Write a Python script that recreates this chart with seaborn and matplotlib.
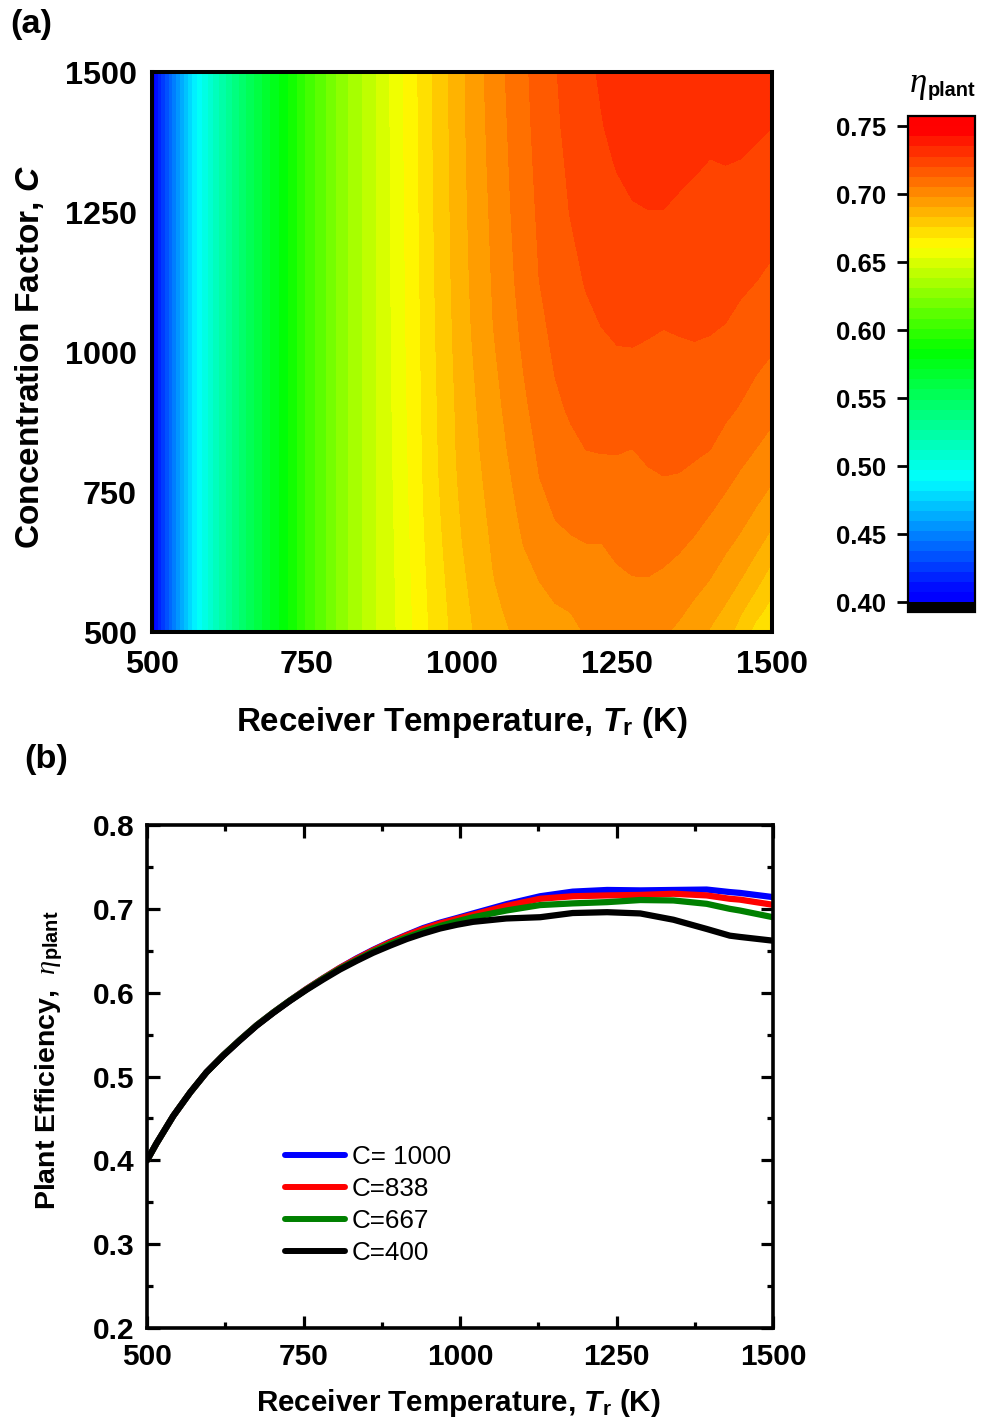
import numpy as np
import matplotlib
matplotlib.use("Agg")
import matplotlib.pyplot as plt
from matplotlib.colors import LinearSegmentedColormap
from matplotlib.ticker import MultipleLocator, FormatStrFormatter
import seaborn as sns

# panel (a): efficiency
conc_rows = [500, 535, 590, 660, 700, 775, 825, 900, 1010, 1046, 1130, 1250, 1345, 1400, 1500]

# below 875 K the map does not depend on C
temp_low = [500, 515, 542, 569, 595, 622, 649, 675, 702, 728, 755, 782, 808, 835, 861]
eta_low = [.400, .422, .457, .486, .509, .529, .547, .563, .577, .591, .605, .617, .628, .637, .6455]

temp_high = [900, 950, 1000, 1050, 1100, 1125, 1150, 1175, 1200, 1225, 1250,
             1275, 1300, 1325, 1350, 1375, 1400, 1425, 1450, 1475, 1500]
eta_t900 = [.6548, .6550, .6553, .6557, .6560, .6565, .6568, .6572, .6577, .6578, .6581, .6584, .6587, .6588, .6590]
eta_t950 = [.6691, .6696, .6703, .6712, .6717, .6724, .6727, .6730, .6735, .6736, .6740, .6744, .6747, .6748, .6750]
eta_t1000 = [.6803, .6808, .6817, .6830, .6837, .6850, .6856, .6861, .6872, .6875, .6881, .6886, .6890, .6891, .6893]
eta_t1050 = [.6881, .6889, .6902, .6914, .6921, .6933, .6942, .6954, .6973, .6979, .6986, .6995, .7003, .7007, .7015]
eta_t1100 = [.6925, .6938, .6958, .6983, .6993, .7012, .7025, .7043, .7065, .7071, .7085, .7098, .7105, .7109, .7116]
eta_t1125 = [.6939, .6955, .6980, .7008, .7025, .7054, .7065, .7081, .7104, .7112, .7130, .7140, .7148, .7153, .7158]
eta_t1150 = [.6955, .6972, .6999, .7034, .7054, .7078, .7093, .7117, .7141, .7148, .7160, .7175, .7187, .7192, .7199]
eta_t1175 = [.6962, .6980, .7010, .7048, .7066, .7095, .7115, .7137, .7159, .7166, .7183, .7206, .7215, .7222, .7230]
eta_t1200 = [.6985, .7000, .7024, .7055, .7074, .7107, .7129, .7149, .7179, .7189, .7209, .7230, .7244, .7250, .7260]
eta_t1225 = [.6983, .6999, .7023, .7055, .7074, .7109, .7132, .7156, .7192, .7204, .7220, .7244, .7263, .7274, .7288]
eta_t1250 = [.6994, .7012, .7041, .7071, .7086, .7114, .7132, .7161, .7203, .7212, .7232, .7261, .7284, .7296, .7303]
eta_t1275 = [.6999, .7019, .7051, .7075, .7088, .7112, .7128, .7159, .7204, .7214, .7239, .7273, .7296, .7308, .7315]
eta_t1300 = [.6999, .7019, .7051, .7079, .7094, .7122, .7139, .7163, .7199, .7211, .7238, .7277, .7298, .7312, .7322]
eta_t1325 = [.6988, .7009, .7042, .7076, .7094, .7128, .7142, .7164, .7195, .7205, .7235, .7277, .7297, .7311, .7327]
eta_t1350 = [.6966, .6990, .7025, .7066, .7087, .7126, .7142, .7165, .7198, .7209, .7234, .7269, .7293, .7306, .7328]
eta_t1375 = [.6932, .6962, .7002, .7047, .7071, .7115, .7138, .7163, .7201, .7211, .7232, .7262, .7286, .7298, .7327]
eta_t1400 = [.6899, .6929, .6977, .7022, .7048, .7097, .7129, .7157, .7198, .7208, .7228, .7256, .7278, .7290, .7324]
eta_t1425 = [.6861, .6892, .6941, .6996, .7022, .7071, .7104, .7143, .7187, .7202, .7224, .7256, .7281, .7294, .7320]
eta_t1450 = [.6797, .6836, .6901, .6965, .6995, .7044, .7075, .7124, .7171, .7186, .7216, .7251, .7278, .7291, .7315]
eta_t1475 = [.6728, .6775, .6849, .6926, .6962, .7017, .7052, .7098, .7155, .7170, .7205, .7242, .7271, .7285, .7310]
eta_t1500 = [.6690, .6726, .6788, .6877, .6921, .6989, .7026, .7076, .7137, .7153, .7191, .7232, .7261, .7278, .7305]

# panel (b): the four efficiency curves
temp_b = [500, 515, 542, 569, 595, 622, 649, 675, 702, 728, 755, 782, 808, 835, 861, 888,
          915, 941, 968, 995, 1021, 1074, 1128, 1180, 1235, 1288, 1341, 1394, 1431, 1447, 1500]
eta_c1000 = [.400, .420, .453, .481, .505, .5255, .544, .561, .5765, .5905, .6045, .6175, .6295, .641, .651, .6605,
             .669, .677, .6835, .689, .6945, .7055, .715, .7205, .7225, .722, .7225, .723, .720, .719, .714]
eta_c838 = [.400, .420, .453, .481, .505, .5255, .544, .561, .5765, .5905, .6045, .6175, .6295, .6405, .6505, .660,
            .6685, .676, .6825, .688, .693, .7035, .712, .715, .716, .7166, .718, .716, .712, .711, .7048]
eta_c667 = [.400, .420, .453, .481, .505, .5255, .544, .561, .5765, .5905, .604, .617, .6285, .639, .649, .658,
            .666, .673, .6795, .685, .690, .698, .7045, .7065, .708, .7105, .710, .706, .700, .698, .690]
eta_c400 = [.400, .420, .453, .481, .505, .525, .5435, .5605, .576, .590, .6035, .616, .6275, .638, .6475, .656,
            .664, .6705, .6765, .681, .6845, .6885, .690, .695, .696, .6945, .687, .676, .668, .6665, .662]
curve_labels = ["C= 1000", "C=838", "C=667", "C=400"]
curve_colors = ["blue", "red", "green", "black"]

W, H = 982, 1422
sns.set_style("ticks")
plt.rcParams["font.family"] = ["Liberation Sans", "DejaVu Sans"]
plt.rcParams["font.weight"] = "bold"
plt.rcParams["axes.labelweight"] = "bold"
plt.rcParams["text.color"] = "black"
plt.rcParams["axes.labelcolor"] = "black"
plt.rcParams["xtick.color"] = "black"
plt.rcParams["ytick.color"] = "black"
plt.rcParams["mathtext.fontset"] = "custom"
plt.rcParams["mathtext.rm"] = "Liberation Sans:bold"
plt.rcParams["mathtext.bf"] = "Liberation Sans:bold"
plt.rcParams["mathtext.it"] = "Liberation Serif:italic:normal"
plt.rcParams["mathtext.bfit"] = "Liberation Sans:italic:bold"


def box(x0, y0, x1, y1):
    # pixel box (top-left origin) to figure fractions
    return [x0 / W, 1 - y1 / H, (x1 - x0) / W, (y1 - y0) / H]


fig = plt.figure(figsize=(W / 100, H / 100), dpi=100)
ax_a = fig.add_axes(box(152, 72, 772, 632))
ax_b = fig.add_axes(box(147, 825, 773, 1328))
cax = fig.add_axes(box(908, 116, 975, 612))

# colours keep to the bands of the colour bar
step = 0.00745
levels = 0.4 + step * np.arange(49)
top = levels[-1]
stops = [(0, "blue"), ((.407 - .4) / (top - .4), "blue"), ((.4905 - .4) / (top - .4), "cyan"),
         ((.5847 - .4) / (top - .4), "lime"), ((.6615 - .4) / (top - .4), "yellow"),
         ((.747 - .4) / (top - .4), "red"), (1, "red")]
cmap = LinearSegmentedColormap.from_list("origin_rainbow", stops, N=1024)
cmap.set_under("black")

temp_map = temp_low + temp_high
eta_left = np.tile(eta_low, (len(conc_rows), 1))
eta_right = np.column_stack([eta_t900, eta_t950, eta_t1000, eta_t1050, eta_t1100, eta_t1125, eta_t1150,
                             eta_t1175, eta_t1200, eta_t1225, eta_t1250, eta_t1275, eta_t1300, eta_t1325,
                             eta_t1350, eta_t1375, eta_t1400, eta_t1425, eta_t1450, eta_t1475, eta_t1500])
eta_map = np.hstack([eta_left, eta_right])
cf = ax_a.contourf(temp_map, conc_rows, eta_map, levels=levels, cmap=cmap, extend="min")

ax_a.set_xlim(500, 1500)
ax_a.set_ylim(500, 1500)
ax_a.xaxis.set_major_locator(MultipleLocator(250))
ax_a.yaxis.set_major_locator(MultipleLocator(250))
ax_a.xaxis.set_minor_locator(MultipleLocator(125))
ax_a.yaxis.set_minor_locator(MultipleLocator(125))
ax_a.tick_params(which="major", direction="in", length=8, width=2.7, labelsize=23.3, color="black")
ax_a.tick_params(which="minor", direction="in", length=4.3, width=2.7, color="black")
ax_a.tick_params(axis="x", which="major", pad=13)
ax_a.tick_params(axis="y", which="major", pad=11)
for sp in ax_a.spines.values():
    sp.set_linewidth(2.9)
    sp.set_color("black")
ax_a.set_xlabel(r"Receiver Temperature, $\mathbfit{T}_{\mathbf{r}}$ (K)", fontsize=23.9, va="center")
ax_a.set_ylabel(r"Concentration Factor, $\mathbfit{C}$", fontsize=24.1, va="center")
ax_a.xaxis.set_label_coords(0.5, -0.162)
ax_a.yaxis.set_label_coords(-0.197, 0.491)

# colour bar
cbar = fig.colorbar(cf, cax=cax, extend="min", extendrect=True, extendfrac=10 / 486)
cbar.set_ticks(np.arange(0.40, 0.76, 0.05))
cbar.ax.yaxis.set_major_formatter(FormatStrFormatter("%.2f"))
cbar.ax.yaxis.set_ticks_position("left")
cbar.ax.minorticks_off()
cbar.ax.tick_params(length=8, width=2, labelsize=18.5, pad=8, color="black", direction="out")
cbar.outline.set_linewidth(1.6)
cbar.outline.set_edgecolor("black")
fig.text(910 / W, 1 - 84 / H, "η", fontsize=25, family="Liberation Serif", style="italic", weight="normal",
         ha="left", va="center")
fig.text(975 / W, 1 - 91 / H, "plant", fontsize=14.3, ha="right", va="center")

# line panel
all_curves = [eta_c1000, eta_c838, eta_c667, eta_c400]
for vals, lab, col in zip(all_curves, curve_labels, curve_colors):
    sns.lineplot(x=temp_b, y=vals, ax=ax_b, color=col, lw=4.5, label=lab, errorbar=None)
ax_b.set_xlim(500, 1500)
ax_b.set_ylim(0.2, 0.8)
ax_b.xaxis.set_major_locator(MultipleLocator(250))
ax_b.xaxis.set_minor_locator(MultipleLocator(125))
ax_b.yaxis.set_major_locator(MultipleLocator(0.1))
ax_b.yaxis.set_minor_locator(MultipleLocator(0.05))
ax_b.yaxis.set_major_formatter(FormatStrFormatter("%.1f"))
ax_b.tick_params(which="both", direction="in", top=True, right=True, width=2.3, color="black")
ax_b.tick_params(which="major", length=9, labelsize=21.5)
ax_b.tick_params(which="minor", length=4.5)
ax_b.tick_params(axis="x", which="major", pad=11)
ax_b.tick_params(axis="y", which="major", pad=9)
for sp in ax_b.spines.values():
    sp.set_linewidth(2.6)
    sp.set_color("black")
ax_b.set_xlabel(r"Receiver Temperature, $\mathbfit{T}_{\mathbf{r}}$ (K)", fontsize=21.3, va="center")
ax_b.set_ylabel(r"Plant Efficiency,  $\eta_{\mathbf{plant}}$", fontsize=20.5, va="center")
ax_b.xaxis.set_label_coords(0.498, -0.149)
ax_b.yaxis.set_label_coords(-0.156, 0.533)

leg = ax_b.legend(loc="upper left", bbox_to_anchor=(0.2204, 0.364), frameon=False, borderpad=0, borderaxespad=0,
                  handlelength=2.3, handletextpad=0.27, labelspacing=0.305,
                  prop={"size": 18.7, "weight": "normal"})
for line in leg.get_lines():
    line.set_solid_capstyle("round")
    line.set_linewidth(4.3)

fig.text(10 / W, 1 - 24 / H, "(a)", fontsize=24.7, ha="left", va="center")
fig.text(24 / W, 1 - 760 / H, "(b)", fontsize=24.7, ha="left", va="center")

fig.savefig("out.png", dpi=100)
